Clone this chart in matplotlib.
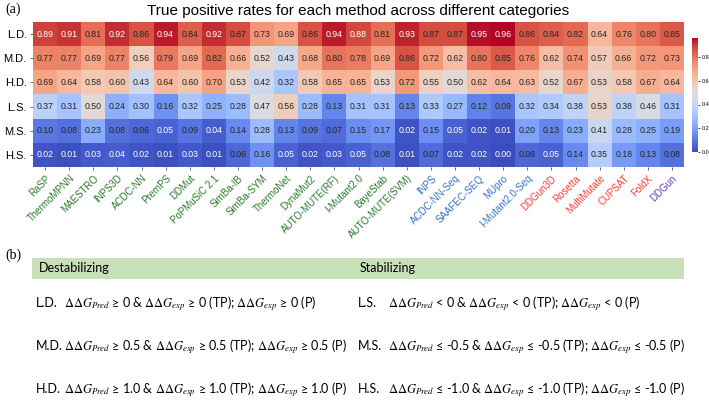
import matplotlib.pyplot as plt
import matplotlib.colors as mcolors
from matplotlib.patches import Rectangle
import numpy as np

methods = ['RaSP', 'ThermoMPNN', 'MAESTRO', 'INPS3D', 'ACDC-NN', 'PremPS', 'DDMut',
           'PoPMuSiC 2.1', 'SimBa-IB', 'SimBa-SYM', 'ThermoNet', 'DynaMut2',
           'AUTO-MUTE(RF)', 'I-Mutant2.0', 'BayeStab', 'AUTO-MUTE(SVM)', 'INPS',
           'ACDC-NN-Seq', 'SAAFEC-SEQ', 'MUpro', 'I-Mutant2.0-Seq', 'DDGun3D',
           'Rosetta', 'MultiMutate', 'CUPSAT', 'FoldX', 'DDGun']
groups = ['ml3d'] * 16 + ['seq'] * 5 + ['phys'] * 5 + ['other']
group_colors = {'ml3d': '#2b7a2b', 'seq': '#3a72c4', 'phys': '#ff3b3b', 'other': '#6a3fb5'}

categories = ['L.D.', 'M.D.', 'H.D.', 'L.S.', 'M.S.', 'H.S.']

ld = [0.89, 0.91, 0.81, 0.92, 0.86, 0.94, 0.84, 0.92, 0.87, 0.73, 0.69, 0.86, 0.94, 0.88,
      0.81, 0.93, 0.87, 0.87, 0.95, 0.96, 0.86, 0.84, 0.82, 0.64, 0.76, 0.80, 0.85]
md = [0.77, 0.77, 0.69, 0.77, 0.56, 0.79, 0.69, 0.82, 0.66, 0.52, 0.43, 0.68, 0.80, 0.78,
      0.69, 0.86, 0.72, 0.62, 0.80, 0.85, 0.76, 0.62, 0.74, 0.57, 0.66, 0.72, 0.73]
hd = [0.69, 0.64, 0.58, 0.60, 0.43, 0.64, 0.60, 0.70, 0.53, 0.42, 0.32, 0.58, 0.65, 0.65,
      0.53, 0.72, 0.55, 0.50, 0.62, 0.64, 0.63, 0.52, 0.67, 0.53, 0.58, 0.67, 0.64]
ls = [0.37, 0.31, 0.50, 0.24, 0.30, 0.16, 0.32, 0.25, 0.28, 0.47, 0.56, 0.28, 0.13, 0.31,
      0.31, 0.13, 0.33, 0.27, 0.12, 0.09, 0.32, 0.34, 0.38, 0.53, 0.38, 0.46, 0.31]
ms = [0.10, 0.08, 0.23, 0.08, 0.06, 0.05, 0.09, 0.04, 0.14, 0.28, 0.13, 0.09, 0.07, 0.15,
      0.17, 0.02, 0.15, 0.05, 0.02, 0.01, 0.20, 0.13, 0.23, 0.41, 0.28, 0.25, 0.19]
hs = [0.02, 0.01, 0.03, 0.04, 0.02, 0.01, 0.03, 0.01, 0.06, 0.16, 0.05, 0.02, 0.03, 0.05,
      0.08, 0.01, 0.07, 0.02, 0.02, 0.00, 0.06, 0.05, 0.14, 0.35, 0.18, 0.13, 0.08]

destab_labels = ['L.D.', 'M.D.', 'H.D.']
destab_rules = [
    r'$\Delta\Delta G_{Pred}$ ≥ 0 & $\Delta\Delta G_{exp}$ ≥ 0 (TP); $\Delta\Delta G_{exp}$ ≥ 0 (P)',
    r'$\Delta\Delta G_{Pred}$ ≥ 0.5 & $\Delta\Delta G_{exp}$ ≥ 0.5 (TP); $\Delta\Delta G_{exp}$ ≥ 0.5 (P)',
    r'$\Delta\Delta G_{Pred}$ ≥ 1.0 & $\Delta\Delta G_{exp}$ ≥ 1.0 (TP); $\Delta\Delta G_{exp}$ ≥ 1.0 (P)',
]
stab_labels = ['L.S.', 'M.S.', 'H.S.']
stab_rules = [
    r'$\Delta\Delta G_{Pred}$ < 0 & $\Delta\Delta G_{exp}$ < 0 (TP); $\Delta\Delta G_{exp}$ < 0 (P)',
    r'$\Delta\Delta G_{Pred}$ ≤ -0.5 & $\Delta\Delta G_{exp}$ ≤ -0.5 (TP); $\Delta\Delta G_{exp}$ ≤ -0.5 (P)',
    r'$\Delta\Delta G_{Pred}$ ≤ -1.0 & $\Delta\Delta G_{exp}$ ≤ -1.0 (TP); $\Delta\Delta G_{exp}$ ≤ -1.0 (P)',
]

plt.rcParams['font.family'] = ['Liberation Sans', 'DejaVu Sans']
plt.rcParams['mathtext.fontset'] = 'stix'

data = np.array([ld, md, hd, ls, ms, hs])
W, H = 709, 400
fig = plt.figure(figsize=(W / 100, H / 100), dpi=100)

# (a) heatmap
ax = fig.add_axes([33 / W, 1 - 167 / H, 651 / W, 145 / H])
cmap = plt.get_cmap('coolwarm')
norm = mcolors.Normalize(vmin=data.min(), vmax=data.max())
im = ax.imshow(data, cmap=cmap, norm=norm, aspect='auto')
for i in range(data.shape[0]):
    for j in range(data.shape[1]):
        r, g, b, _ = cmap(norm(data[i, j]))
        lum = 0.2126 * r + 0.7152 * g + 0.0722 * b
        ax.text(j, i, f'{data[i, j]:.2f}', ha='center', va='center', fontsize=6.3,
                color='#262626' if lum > 0.408 else 'white')
ax.set_xticks(range(len(methods)))
ax.set_xticklabels(methods, rotation=45, ha='right', rotation_mode='anchor', fontsize=7)
for lbl, grp in zip(ax.get_xticklabels(), groups):
    lbl.set_color(group_colors[grp])
ax.set_yticks(range(len(categories)))
ax.set_yticklabels(categories, fontsize=8)
ax.tick_params(length=2.5, width=0.6, color='#555555', pad=2)
for s in ax.spines.values():
    s.set_visible(False)
ax.set_title('True positive rates for each method across different categories',
             fontsize=11, pad=5)

cax = fig.add_axes([692 / W, 1 - 152 / H, 6 / W, 114 / H])
cb = fig.colorbar(im, cax=cax, ticks=[0.0, 0.2, 0.4, 0.6, 0.8])
cb.ax.tick_params(labelsize=4, length=1.5, width=0.5, pad=1)
cb.outline.set_visible(False)

# (b) criteria table
tb = fig.add_axes([0, 0, 1, 1])
tb.set_xlim(0, W)
tb.set_ylim(H, 0)
tb.axis('off')
tb.add_patch(Rectangle((32, 258), 652, 21, facecolor='#c8e0b6', edgecolor='none'))

fig.text(5 / W, 1 - 9 / H, '(a)', family='Liberation Serif', fontsize=10, va='center')
fig.text(5 / W, 1 - 255 / H, '(b)', family='Liberation Serif', fontsize=10, va='center')

tfam = ['Lato', 'DejaVu Sans']
tb.text(39, 272.5, 'Destabilizing', family=tfam, fontsize=9, va='baseline')
tb.text(360, 272.5, 'Stabilizing', family=tfam, fontsize=9, va='baseline')
ys = [307, 350, 393]
for y, lab, rule in zip(ys, destab_labels, destab_rules):
    tb.text(36, y, lab, family=tfam, fontsize=9, va='baseline')
    tb.text(64, y, rule, family=tfam, fontsize=9, va='baseline')
for y, lab, rule in zip(ys, stab_labels, stab_rules):
    tb.text(358, y, lab, family=tfam, fontsize=9, va='baseline')
    tb.text(388, y, rule, family=tfam, fontsize=9, va='baseline')

fig.savefig('out.png', dpi=100)
